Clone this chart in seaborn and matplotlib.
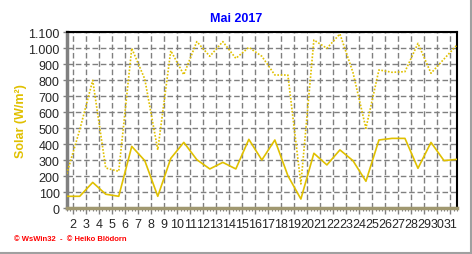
import matplotlib
matplotlib.use("Agg")
import matplotlib.pyplot as plt
import matplotlib.ticker as mticker
from matplotlib.lines import Line2D
import seaborn as sns
import pandas as pd
import numpy as np

days = list(range(1, 32))
solar_max = [215, 490, 800, 252, 231, 1000, 808, 365, 985, 835, 1042, 950, 1042, 937, 1006,
             950, 833, 833, 152, 1052, 1000, 1090, 850, 500, 865, 850, 854, 1031, 844, 933, 1021]
solar_mean = [75, 75, 162, 88, 75, 387, 298, 75, 312, 412, 304, 246, 287, 246, 431,
              302, 427, 204, 58, 344, 271, 365, 298, 169, 427, 437, 437, 250, 412, 298, 306]
tick_labels = [str(d) for d in range(2, 32)]
y_ticks = list(range(0, 1101, 100))

title = "Mai 2017"
ylabel = "Solar (W/m²)"
footer = "© WsWin32  -  © Heiko Blödorn"

sns.set_style("white")
plt.rcParams['font.family'] = ['Liberation Sans', 'DejaVu Sans']

df = pd.DataFrame({"day": days, "max": solar_max, "mean": solar_mean})

fig = plt.figure(figsize=(4.72, 2.55), dpi=100)
ax = fig.add_axes([66.7/472, 1-209.3/255, (457-66.7)/472, (209.3-33.3)/255])

yellow = "#E0C000"
sns.lineplot(data=df, x="day", y="max", ax=ax, color=yellow, lw=1.2,
             linestyle=(0, (1, 1)), zorder=3)
sns.lineplot(data=df, x="day", y="mean", ax=ax, color=yellow, lw=1.2, zorder=3)

ax.set_xlim(1, 31)
ax.set_ylim(0, 1100)
ax.set_xticks([d - 0.5 for d in range(2, 32)])
ax.set_xticklabels(tick_labels)
ax.set_xticks(np.arange(1, 31.01, 0.25), minor=True)
ax.set_yticks(y_ticks)
ax.yaxis.set_major_formatter(mticker.FuncFormatter(lambda v, p: f"{int(v):,}".replace(",", ".")))

ax.grid(True, which="major", color="#808080", linestyle=(0, (4, 2)), lw=1)
ax.set_axisbelow(True)

ax.tick_params(axis="x", which="major", length=4, width=1, color="#808080",
               labelsize=9, pad=3, direction="out")
ax.tick_params(axis="x", which="minor", length=2, width=0.8, color="#808080", direction="out")
ax.tick_params(axis="y", which="major", length=3, width=1, color="#808080",
               labelsize=9, pad=2, direction="out")
ax.tick_params(bottom=True, left=True, which="both")

for s in ["top", "right"]:
    ax.spines[s].set_color("black")
    ax.spines[s].set_linewidth(1.5)
ax.spines["left"].set_color("#808080")
ax.spines["left"].set_linewidth(2.5)
ax.spines["bottom"].set_color("#A09870")
ax.spines["bottom"].set_linewidth(2.5)

ax.set_xlabel("")
ax.set_ylabel(ylabel, color=yellow, fontsize=9, fontweight="bold", labelpad=10)
ax.yaxis.set_label_coords(-0.102, 0.5)

fig.text(236/472, 1-19/255, title, color="#0000FF", fontsize=9, fontweight="bold",
         ha="center", va="center")
fig.text(14/472, 1-239.5/255, footer, color="#FF0000", fontsize=5.5, fontweight="bold",
         ha="left", va="center")

fig.add_artist(Line2D([0, 1], [0.6/255, 0.6/255], color="#A0A0A0", lw=1.5, transform=fig.transFigure))
fig.add_artist(Line2D([1-0.6/472, 1-0.6/472], [0, 1], color="#A0A0A0", lw=1.5, transform=fig.transFigure))

fig.savefig("out.png", dpi=100)
